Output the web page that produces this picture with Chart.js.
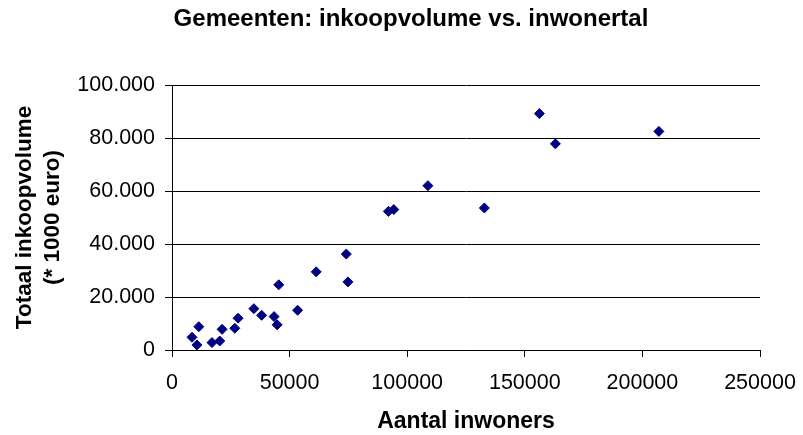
<!DOCTYPE html>
<html>
<head>
<meta charset="utf-8">
<script src="https://cdn.jsdelivr.net/npm/chart.js@4"></script>
<style>
  html, body { margin: 0; padding: 0; background: #ffffff; }
  #wrap { width: 803px; height: 435px; }
</style>
</head>
<body>
<div id="wrap"><canvas id="chart" width="803" height="435"></canvas></div>
<script>
// inwoners per gemeente
const inwoners = [8500, 10600, 11400, 17000, 20300, 21300, 26700, 28100, 34800, 38100, 43400, 44700,
    45400, 53400, 61300, 74100, 74800, 92000, 94300, 108800, 132800, 156200, 163000, 207000];
// inkoopvolume (* 1000 euro)
const inkoopvolume = [4800, 1900, 8800, 2800, 3400, 7800, 8200, 12000, 15600, 13100, 12600, 9500,
    24600, 15000, 29500, 36200, 25700, 52300, 53000, 62000, 53600, 89200, 77800, 82500];

const xTicks = [0, 50000, 100000, 150000, 200000, 250000];
const yTicks = [0, 20000, 40000, 60000, 80000, 100000];

const chartTitle = "Gemeenten: inkoopvolume vs. inwonertal";

const points = inwoners.map((x, i) => ({ x: x, y: inkoopvolume[i] }));

function dotted(v) {
    return String(v).replace(/\B(?=(\d{3})+(?!\d))/g, ".");
}

// the title sits a bit right of the canvas centre, so draw it ourselves
const titlePlugin = {
    id: "offsetTitle",
    afterDraw(chart) {
        const c = chart.ctx;
        c.save();
        c.font = "bold 24px 'Liberation Sans', Arial, sans-serif";
        c.fillStyle = "#000000";
        c.textAlign = "center";
        c.textBaseline = "middle";
        c.fillText(chartTitle, 411, 19);
        c.restore();
    }
};

Chart.defaults.font.family = "'Liberation Sans', Arial, sans-serif";
Chart.defaults.color = "#000000";

const ctx = document.getElementById("chart").getContext("2d");
new Chart(ctx, {
    type: "scatter",
    data: {
        datasets: [{
            label: "Gemeenten",
            data: points,
            pointStyle: "rectRot",
            pointRadius: 5,
            pointHoverRadius: 5,
            backgroundColor: "#000080",
            borderColor: "#000080",
            borderWidth: 1
        }]
    },
    plugins: [titlePlugin],
    options: {
        responsive: false,
        animation: false,
        layout: { padding: { left: 0, right: 43, top: 85, bottom: 0 } },
        plugins: {
            legend: { display: false },
            tooltip: { enabled: false },
            title: { display: false }
        },
        scales: {
            x: {
                type: "linear",
                min: xTicks[0],
                max: xTicks[xTicks.length - 1],
                afterBuildTicks: (axis) => { axis.ticks = xTicks.map(v => ({ value: v })); },
                afterFit: (axis) => {
                    axis.height = 85;
                    axis.paddingLeft = 0;
                    axis.paddingRight = 0;
                },
                border: { color: "#000000", width: 1 },
                grid: { drawOnChartArea: false, color: "#000000", tickLength: 7 },
                ticks: {
                    font: { size: 21.5 },
                    padding: 13,
                    maxRotation: 0,
                    callback: (v) => String(v)
                },
                title: {
                    display: true,
                    text: "Aantal inwoners",
                    font: { size: 23, weight: "bold" },
                    padding: { top: 0, bottom: 0 }
                }
            },
            y: {
                type: "linear",
                min: yTicks[0],
                max: yTicks[yTicks.length - 1],
                afterBuildTicks: (axis) => { axis.ticks = yTicks.map(v => ({ value: v })); },
                afterFit: (axis) => { axis.width = 172; },
                border: { color: "#000000", width: 1 },
                grid: { color: "#000000", tickLength: 7 },
                ticks: {
                    font: { size: 21.5 },
                    padding: 10,
                    callback: (v) => dotted(v)
                },
                title: {
                    display: true,
                    text: ["Totaal inkoopvolume", "(* 1000 euro)"],
                    font: { size: 22.5, weight: "bold", lineHeight: 1.25 },
                    padding: { top: 11, bottom: 0 }
                }
            }
        }
    }
});
</script>
</body>
</html>
